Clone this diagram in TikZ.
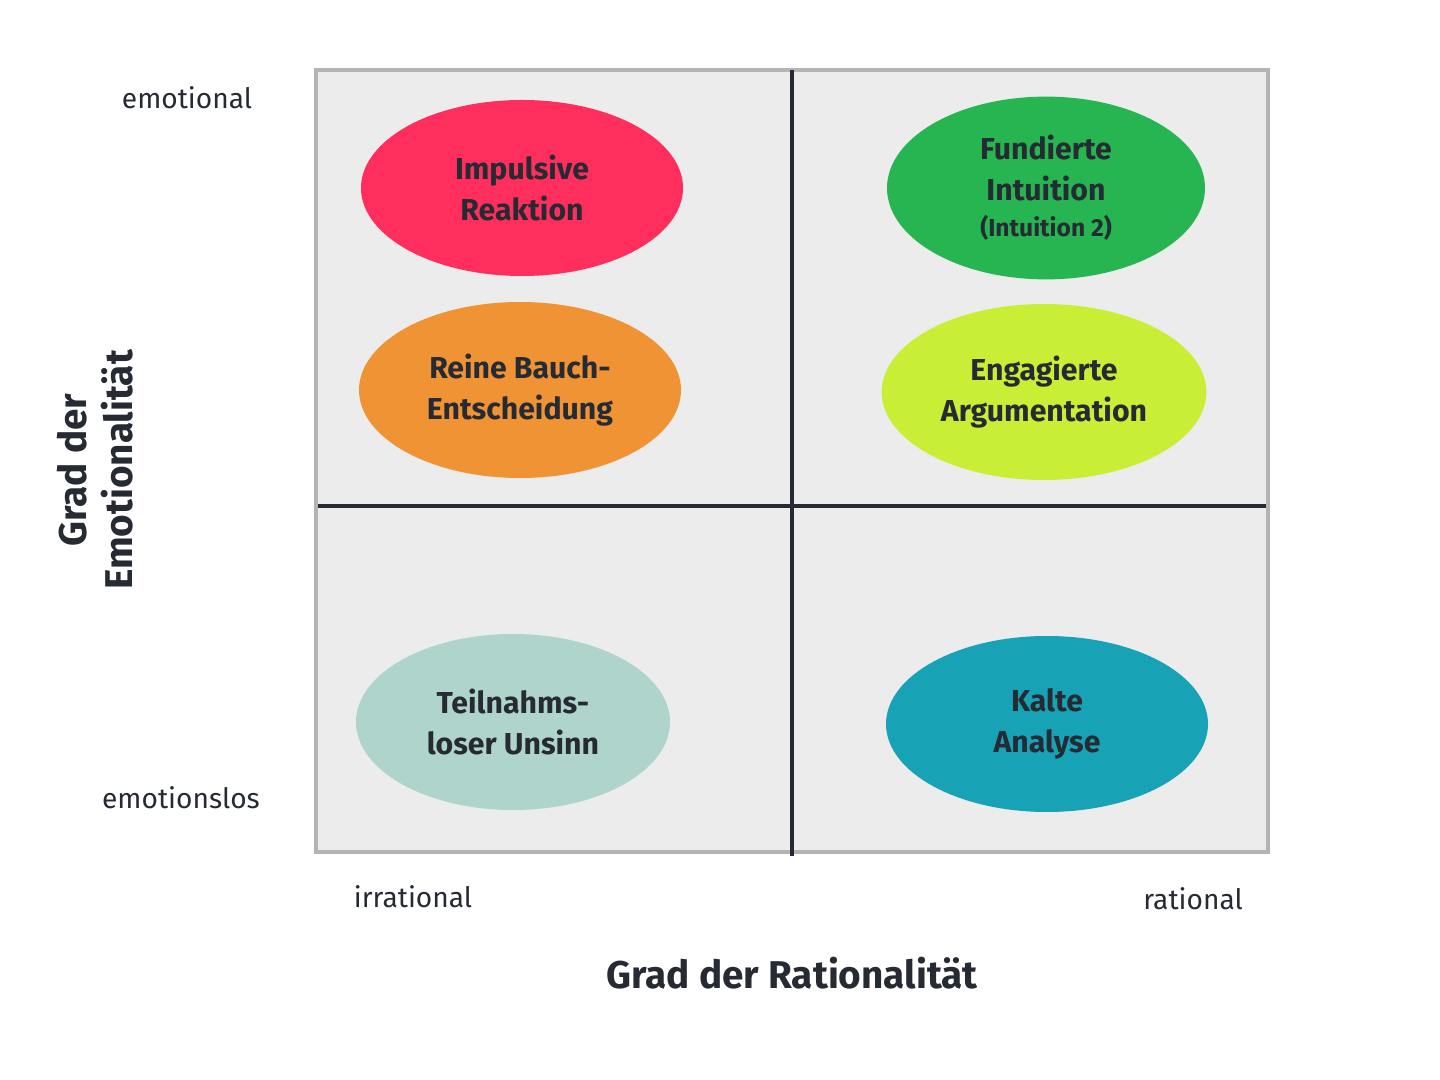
\documentclass[tikz,border=0pt]{standalone}
\usepackage{fontspec}
\setmainfont{Fira Sans}
\usetikzlibrary{shapes.geometric, positioning}
\definecolor{boxfill}{HTML}{ECECEC}
\definecolor{boxline}{HTML}{B4B4B4}
\definecolor{ink}{HTML}{252A33}
\definecolor{cImp}{HTML}{FF2E5C}
\definecolor{cBauch}{HTML}{F09335}
\definecolor{cTeil}{HTML}{AED4CC}
\definecolor{cFund}{HTML}{27B552}
\definecolor{cEng}{HTML}{C8EE35}
\definecolor{cKalt}{HTML}{17A3B5}
\begin{document}
\begin{tikzpicture}[x=0.01cm, y=-0.01cm,
  blob/.style = {ellipse, draw=none, minimum width=322*0.01cm, minimum height=176*0.01cm,
                 align=center, text=ink, font=\fontsize{8.6}{11.5}\selectfont\bfseries},
  tick/.style = {text=ink, font=\fontsize{8}{10}\selectfont},
  axis/.style = {text=ink, font=\fontsize{11}{13}\selectfont\bfseries, align=center}]

\useasboundingbox (0,0) rectangle (1440,1080);

\node[draw=boxline, line width=1.2pt, fill=boxfill, minimum width=952*0.01cm, minimum height=782*0.01cm,
      inner sep=0pt] (box) at (792,461) {};
\draw[ink, line width=1.2pt] (box.north) ++(0,2) -- ([yshift=-2*0.01cm]box.south);
\draw[ink, line width=1.2pt] (318,506) -- (1266,506);

\node[blob, fill=cImp]   (imp)   at (522,188)  {Impulsive\\Reaktion};
\node[blob, fill=cBauch] (bauch) at (520,390)  {Reine Bauch-\\Entscheidung};
\node[blob, fill=cTeil, minimum width=314*0.01cm]  (teil)  at (513,722)  {Teilnahms-\\loser Unsinn};
\node[blob, fill=cFund, minimum width=318*0.01cm]  (fund)  at (1046,188) {Fundierte\\Intuition\\[-1pt]{\fontsize{7}{9}\selectfont(Intuition 2)}};
\node[blob, fill=cEng, minimum width=318*0.01cm]   (eng)   at (1044,392) {Engagierte\\Argumentation};
\node[blob, fill=cKalt]  (kalt)  at (1047,724) {Kalte\\Analyse};

% axis labels
\node[tick] (emo)    at (187,98)   {emotional};
\node[tick] (emolos) at (181,798)  {emotionslos};
\node[tick] (irr)    at (413,897)  {irrational};
\node[tick] (rat)    at (1193,899) {rational};
\node[axis] (xlab) at (792,973) {Grad der Rationalität};
\node[axis, rotate=90] (ylab) at (95,470) {Grad der\\Emotionalität};

\end{tikzpicture}
\end{document}
